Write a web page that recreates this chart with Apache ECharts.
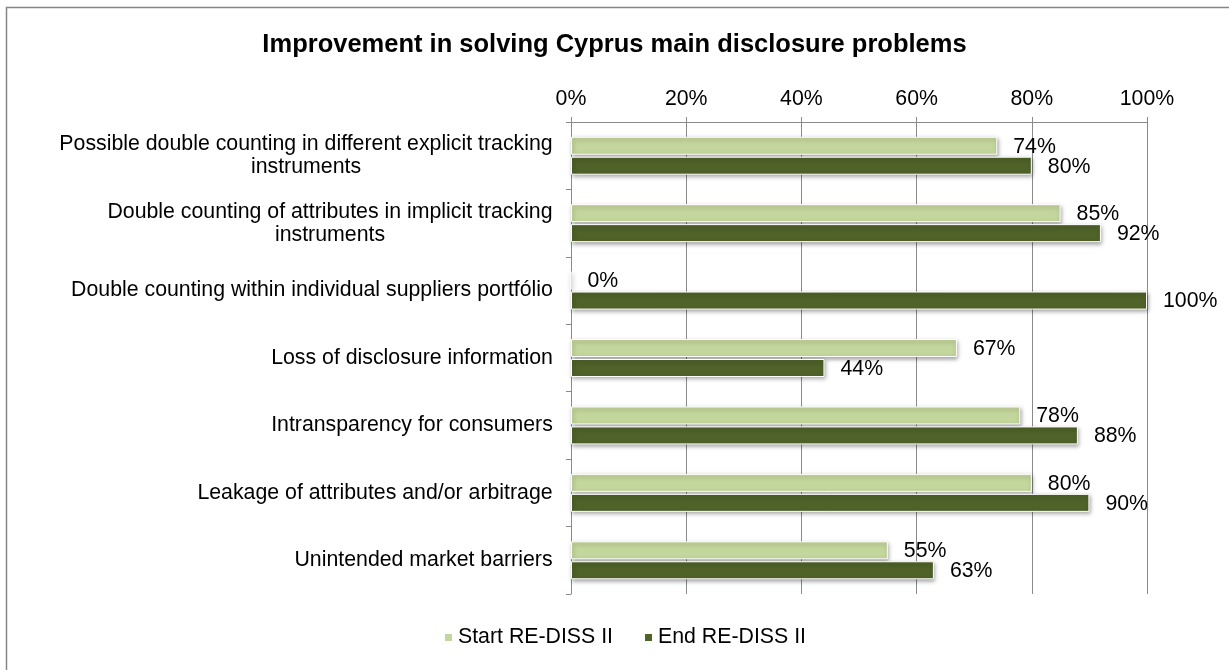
<!DOCTYPE html>
<html>
<head>
<meta charset="utf-8">
<script src="https://cdn.jsdelivr.net/npm/echarts@6/dist/echarts.min.js"></script>
<style>
  html, body { margin: 0; padding: 0; background: #ffffff; }
  #chart { width: 1229px; height: 670px; }
</style>
</head>
<body>
<div id="chart"></div>
<script>
// Disclosure problems, top to bottom
const categories = [
  'Possible double counting in different explicit tracking\ninstruments',
  'Double counting of attributes in implicit tracking\ninstruments',
  'Double counting within individual suppliers portfólio',
  'Loss of disclosure information',
  'Intransparency for consumers',
  'Leakage of attributes and/or arbitrage',
  'Unintended market barriers'
];
const seriesNames = ['Start RE-DISS II', 'End RE-DISS II'];
const startValues = [74, 85, 0, 67, 78, 80, 55];
const endValues = [80, 92, 100, 44, 88, 90, 63];
const percentTicks = [0, 20, 40, 60, 80, 100];

const FONT = '"Liberation Sans", Arial, sans-serif';
const TEXT_SIZE = 21.3;
const LIGHT = '#c3d69b';
const DARK = '#4f6228';
const GRID = '#8a8a8a';

// Width of the widest line of a label, so multi-line labels can be centred line by line
const measureCtx = document.createElement('canvas').getContext('2d');
measureCtx.font = TEXT_SIZE + 'px ' + FONT;
function widestLine(text) {
  return Math.ceil(Math.max(...text.split('\n').map(l => measureCtx.measureText(l).width)));
}
const richStyles = {};
categories.forEach((c, i) => {
  richStyles['c' + i] = { width: widestLine(c), align: 'center', fontSize: TEXT_SIZE, fontFamily: FONT, color: '#000', lineHeight: 23 };
});

const barStyle = (color) => ({
  color: color,
  borderColor: '#ffffff',
  borderWidth: 1,
  shadowColor: 'rgba(0,0,0,0.35)',
  shadowBlur: 4,
  shadowOffsetX: 1,
  shadowOffsetY: 2
});

const valueLabel = {
  show: true, position: 'right', distance: 16, offset: [0, 1], formatter: '{c}%',
  fontFamily: FONT, fontSize: TEXT_SIZE, color: '#000'
};

const chart = echarts.init(document.getElementById('chart'), null, { renderer: 'canvas' });
chart.setOption({
  backgroundColor: '#ffffff',
  animation: false,
  title: {
    text: 'Improvement in solving Cyprus main disclosure problems',
    left: 'center',
    top: 32,
    padding: 0,
    textStyle: { fontFamily: FONT, fontSize: 25.5, fontWeight: 'bold', color: '#000' }
  },
  graphic: [{
    type: 'rect',
    shape: { x: 6.5, y: 7.5, width: 1240, height: 700 },
    style: { fill: 'none', stroke: '#868686', lineWidth: 1.5 },
    silent: true
  }],
  legend: {
    data: seriesNames,
    bottom: 17,
    left: 438,
    itemWidth: 9,
    itemHeight: 9,
    itemGap: 30,
    icon: 'rect',
    textStyle: { fontFamily: FONT, fontSize: TEXT_SIZE, color: '#000' }
  },
  grid: { left: 571, right: 82, top: 122, bottom: 76, containLabel: false },
  xAxis: {
    type: 'value',
    position: 'top',
    min: percentTicks[0],
    max: percentTicks[percentTicks.length - 1],
    interval: 20,
    axisLine: { show: true, lineStyle: { color: GRID, width: 1 } },
    axisTick: { show: true, length: 5, lineStyle: { color: GRID } },
    splitLine: { show: true, lineStyle: { color: GRID, width: 1 } },
    axisLabel: {
      margin: 12,
      formatter: '{value}%',
      fontFamily: FONT, fontSize: TEXT_SIZE, color: '#000'
    }
  },
  yAxis: {
    type: 'category',
    inverse: true,
    data: categories,
    axisLine: { show: true, lineStyle: { color: GRID, width: 1 } },
    axisTick: { show: true, length: 5, lineStyle: { color: GRID } },
    splitLine: { show: false },
    axisLabel: {
      margin: 18,
      fontFamily: FONT, fontSize: TEXT_SIZE, color: '#000', lineHeight: 23,
      formatter: (value, idx) => value.split('\n').map(l => '{c' + idx + '|' + l + '}').join('\n'),
      rich: richStyles
    }
  },
  series: [
    {
      name: seriesNames[0],
      type: 'bar',
      data: startValues,
      barWidth: 18,
      barGap: '11%',
      itemStyle: barStyle(LIGHT),
      label: valueLabel
    },
    {
      name: seriesNames[1],
      type: 'bar',
      data: endValues,
      barWidth: 18,
      barGap: '11%',
      itemStyle: barStyle(DARK),
      label: valueLabel
    }
  ]
});
</script>
</body>
</html>
